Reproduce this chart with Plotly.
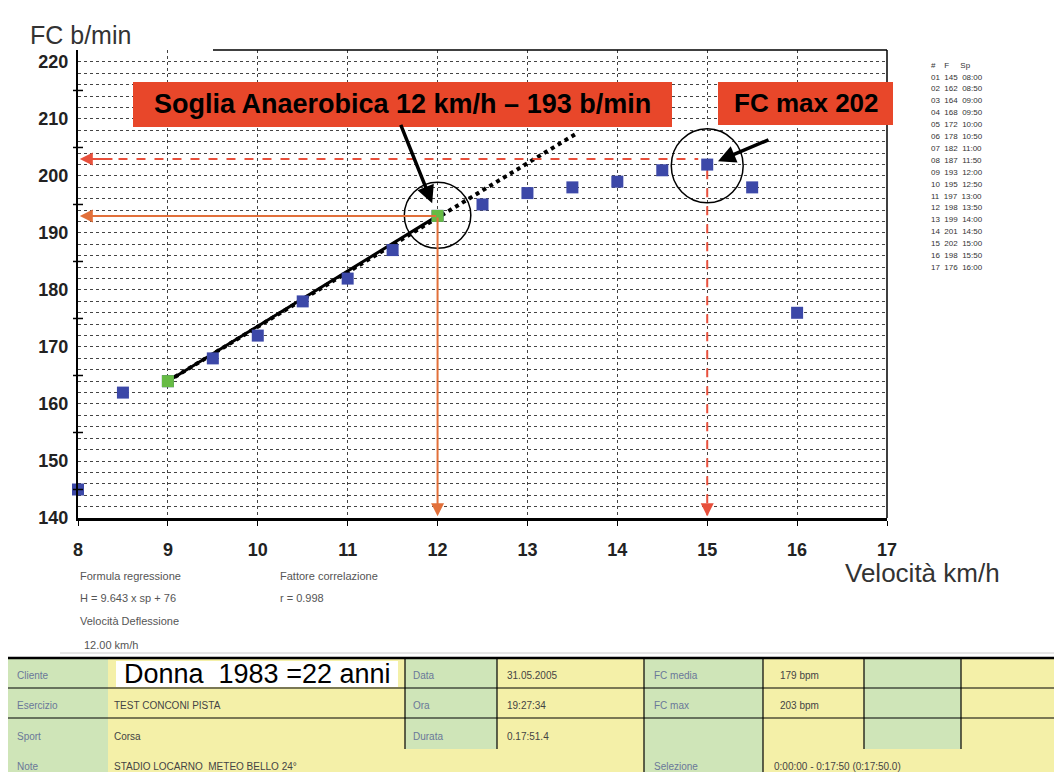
import plotly.graph_objects as go

# ---------------- data ----------------
speed = [8, 8.5, 9, 9.5, 10, 10.5, 11, 11.5, 12, 12.5, 13, 13.5, 14, 14.5, 15, 15.5, 16]
hr = [145, 162, 164, 168, 172, 178, 182, 187, 193, 195, 197, 198, 199, 201, 202, 198, 176]

green_speed = [9, 12]
green_hr = [164, 193]

reg_x = [9, 13.55]
reg_y = [164, 207.5]

soglia_speed = 12
soglia_hr = 193
fcmax_speed = 15
fcmax_hr = 202
fcmax_line = 203

x_ticks = [8, 9, 10, 11, 12, 13, 14, 15, 16, 17]
y_ticks = [140, 150, 160, 170, 180, 190, 200, 210, 220]
y_small_ticks = [145, 155, 165, 175, 185, 195, 205, 215]

# ---------------- geometry helpers (target pixel -> paper) ----------------
# the page body has an 8px margin, so the figure is drawn 8px in from the window edge
OFF = 8
L, R, T, B = 78, 887, 50, 518
W, H = 1062 - OFF, 772 - OFF


def px(x):
    return (x - L) / (R - L)


def py(y):
    return (B - y) / (B - T)


fig = go.Figure()

# regression (dotted) and fitted solid segment
fig.add_trace(go.Scatter(x=[green_speed[0], soglia_speed], y=[green_hr[0], soglia_hr], mode="lines",
                         line=dict(color="black", width=3), hoverinfo="skip"))
fig.add_trace(go.Scatter(x=reg_x, y=reg_y, mode="lines",
                         line=dict(color="black", width=4, dash="dot"), hoverinfo="skip"))

# red dashed FC max lines
fig.add_trace(go.Scatter(x=[8.05, fcmax_speed - 0.1], y=[fcmax_line, fcmax_line], mode="lines",
                         line=dict(color="#e8503c", width=2, dash="dash"), hoverinfo="skip"))
fig.add_trace(go.Scatter(x=[fcmax_speed, fcmax_speed], y=[fcmax_hr - 1, 140.5], mode="lines",
                         line=dict(color="#e8503c", width=2, dash="dash"), hoverinfo="skip"))

# data points
fig.add_trace(go.Scatter(x=speed, y=hr, mode="markers", cliponaxis=False,
                         marker=dict(symbol="square", size=12, color="#3c48a8"), hoverinfo="skip"))
fig.add_trace(go.Scatter(x=green_speed, y=green_hr, mode="markers", cliponaxis=False,
                         marker=dict(symbol="square", size=12, color="#66bb44"), hoverinfo="skip"))

shapes = []
annotations = []


def text(txt, x, y, font, xanchor="left"):
    annotations.append(dict(xref="paper", yref="paper", x=px(x), y=py(y), xanchor=xanchor,
                            yanchor="middle", showarrow=False, text=txt, font=font))


# circles
shapes.append(dict(type="circle", xref="x", yref="y",
                   x0=soglia_speed - 0.37, x1=soglia_speed + 0.37,
                   y0=soglia_hr - 5.7, y1=soglia_hr + 5.9,
                   line=dict(color="black", width=1.5)))
shapes.append(dict(type="circle", xref="x", yref="y",
                   x0=fcmax_speed - 0.4, x1=fcmax_speed + 0.4,
                   y0=fcmax_hr - 6.7, y1=fcmax_hr + 6.3,
                   line=dict(color="black", width=1.5)))

# orange arrows
for (hx, hy) in [(8.02, soglia_hr), (soglia_speed, 140.3)]:
    annotations.append(dict(x=hx, y=hy, ax=soglia_speed, ay=soglia_hr, xref="x", yref="y",
                            axref="x", ayref="y", text="", showarrow=True,
                            arrowhead=2, arrowsize=1.3, arrowwidth=2, arrowcolor="#e2703a"))
# red dashed arrowheads
annotations.append(dict(x=8.02, y=fcmax_line, ax=8.4, ay=fcmax_line, xref="x", yref="y",
                        axref="x", ayref="y", text="", showarrow=True,
                        arrowhead=2, arrowsize=1.3, arrowwidth=2, arrowcolor="#e8503c"))
annotations.append(dict(x=fcmax_speed, y=140.3, ax=fcmax_speed, ay=142.5, xref="x", yref="y",
                        axref="x", ayref="y", text="", showarrow=True,
                        arrowhead=2, arrowsize=1.3, arrowwidth=2, arrowcolor="#e8503c"))

# small y ticks at 5s
for v in y_small_ticks:
    shapes.append(dict(type="line", xref="paper", yref="y", x0=px(73), x1=px(83), y0=v, y1=v,
                       line=dict(color="black", width=1.5)))

# frame top/right
shapes.append(dict(type="line", xref="paper", yref="paper", x0=px(213), x1=1, y0=1, y1=1,
                   line=dict(color="black", width=1.5)))
shapes.append(dict(type="line", xref="paper", yref="paper", x0=1, x1=1, y0=0, y1=1,
                   line=dict(color="black", width=1.5)))

# red label boxes
shapes.append(dict(type="rect", xref="paper", yref="paper", x0=px(133), x1=px(672), y0=py(127), y1=py(82),
                   fillcolor="#e8472a", line=dict(width=0)))
shapes.append(dict(type="rect", xref="paper", yref="paper", x0=px(718), x1=px(893), y0=py(125), y1=py(82),
                   fillcolor="#e8472a", line=dict(width=0)))
text("<b>Soglia Anaerobica 12 km/h – 193 b/min</b>", 402, 104,
     dict(family="Arial, Liberation Sans", size=27, color="black"), xanchor="center")
text("<b>FC max 202</b>", 806, 103,
     dict(family="Arial, Liberation Sans", size=26, color="black"), xanchor="center")

# black pointing arrows
annotations.append(dict(x=11.94, y=195.2, xref="x", yref="y", ax=-32, ay=-80, text="",
                        showarrow=True, arrowhead=2, arrowsize=1, arrowwidth=3.5, arrowcolor="black"))
annotations.append(dict(x=15.12, y=202.6, xref="x", yref="y", ax=52, ay=-22, text="",
                        showarrow=True, arrowhead=2, arrowsize=1, arrowwidth=3.5, arrowcolor="black"))

# axis titles
text("FC b/min", 28, 35, dict(family="Arial, Liberation Sans", size=25, color="#333"))
text("Velocità km/h", 843, 573, dict(family="Arial, Liberation Sans", size=26, color="#333"))

# small info text under chart
small = dict(family="Arial, Liberation Sans", size=11, color="#555")
for txt, x, y in [("Formula regressione", 78, 576), ("H = 9.643 x sp + 76", 78, 598),
                  ("Velocità Deflessione", 78, 621), ("12.00 km/h", 82, 645),
                  ("Fattore correlazione", 278, 576), ("r = 0.998", 278, 598)]:
    text(txt, x, y, small)

# right-side data listing
tiny = dict(family="Arial, Liberation Sans", size=8, color="#333")
text("#&nbsp;&nbsp;&nbsp;&nbsp;F&nbsp;&nbsp;&nbsp;&nbsp;&nbsp;Sp", 929, 66, tiny)
for i, (s, h) in enumerate(zip(speed, hr)):
    st = f"{int(s):02d}:{int(round((s % 1) * 100)):02d}"
    text(f"{i + 1:02d}&nbsp;&nbsp;{h}&nbsp;&nbsp;{st}", 929, 77 + i * 11.9, tiny)

# ---------------- bottom table ----------------
GREEN = "#cfe5b8"
YELLOW = "#f4f0a8"
cols = [7, 108, 405, 497, 644, 763, 864, 961, 1062]
rows = [658, 688, 718, 749, 772]
col_fill = [GREEN, YELLOW, GREEN, YELLOW, GREEN, YELLOW, GREEN, YELLOW]
row4_fill = [GREEN, YELLOW, YELLOW, YELLOW, GREEN, YELLOW, YELLOW, YELLOW]
for ri in range(4):
    fills = row4_fill if ri == 3 else col_fill
    for ci in range(8):
        shapes.append(dict(type="rect", xref="paper", yref="paper",
                           x0=px(cols[ci]), x1=px(cols[ci + 1]), y0=py(rows[ri + 1]), y1=py(rows[ri]),
                           fillcolor=fills[ci], line=dict(width=0), layer="below"))
# white box behind big text
shapes.append(dict(type="rect", xref="paper", yref="paper", x0=px(116), x1=px(398), y0=py(687), y1=py(661),
                   fillcolor="white", line=dict(width=0), layer="below"))
# table lines
shapes.append(dict(type="line", xref="paper", yref="paper", x0=px(7), x1=px(1062), y0=py(658), y1=py(658),
                   line=dict(color="black", width=2.5)))
shapes.append(dict(type="line", xref="paper", yref="paper", x0=px(7), x1=px(7), y0=py(658), y1=py(772),
                   line=dict(color="black", width=1.5)))
for yy in [688, 718]:
    shapes.append(dict(type="line", xref="paper", yref="paper", x0=px(7), x1=px(1062), y0=py(yy), y1=py(yy),
                       line=dict(color="black", width=1.2)))
for xx, yb in [(405, 749), (497, 749), (644, 772), (763, 772), (864, 749), (961, 749)]:
    shapes.append(dict(type="line", xref="paper", yref="paper", x0=px(xx), x1=px(xx), y0=py(658), y1=py(yb),
                       line=dict(color="black", width=1.2)))
shapes.append(dict(type="line", xref="paper", yref="paper", x0=px(60), x1=px(1062), y0=py(653), y1=py(653),
                   line=dict(color="#ccc", width=1)))

lab = dict(family="Arial, Liberation Sans", size=10, color="#6a7898")
val = dict(family="Arial, Liberation Sans", size=10, color="#444")
table_labels = [("Cliente", 15, 675), ("Esercizio", 15, 705), ("Sport", 15, 736), ("Note", 15, 766),
                ("Data", 411, 675), ("Ora", 411, 705), ("Durata", 411, 736),
                ("FC media", 652, 675), ("FC max", 652, 705), ("Selezione", 652, 766)]
table_values = [("TEST CONCONI PISTA", 112, 705), ("Corsa", 112, 736),
                ("STADIO LOCARNO  METEO BELLO 24°", 112, 766),
                ("31.05.2005", 505, 675), ("19:27:34", 505, 705), ("0.17:51.4", 505, 736),
                ("179 bpm", 778, 675), ("203 bpm", 778, 705),
                ("0:00:00 - 0:17:50 (0:17:50.0)", 772, 766)]
for txt, x, y in table_labels:
    text(txt, x, y, lab)
for txt, x, y in table_values:
    text(txt, x, y, val)
text("Donna&nbsp;&nbsp;1983 =22 anni", 122, 674,
     dict(family="Arial, Liberation Sans", size=27, color="black"))

tickfont = dict(family="Arial, Liberation Sans", size=18, color="#222", weight="bold")
fig.update_layout(
    width=W, height=H,
    margin=dict(l=L - OFF, r=W - (R - OFF), t=T - OFF, b=H - (B - OFF), pad=0),
    paper_bgcolor="white", plot_bgcolor="white",
    showlegend=False,
    shapes=shapes, annotations=annotations,
    xaxis=dict(range=[8, 17], tickvals=x_ticks, ticks="outside", ticklen=5, tickcolor="black",
               showline=True, linecolor="black", linewidth=3, zeroline=False,
               showgrid=True, gridcolor="#444", gridwidth=1, griddash="dot",
               tickfont=tickfont, ticklabelstandoff=8),
    yaxis=dict(range=[140, 222.1], tickvals=y_ticks, ticks="", showline=True, linecolor="black",
               linewidth=2, zeroline=False,
               showgrid=True, gridcolor="#444", gridwidth=1, griddash="dot",
               minor=dict(dtick=2, tick0=140, showgrid=True, gridcolor="#444", gridwidth=1, griddash="dot"),
               tickfont=tickfont, ticklabelstandoff=4),
)

fig.write_html("out.html")
